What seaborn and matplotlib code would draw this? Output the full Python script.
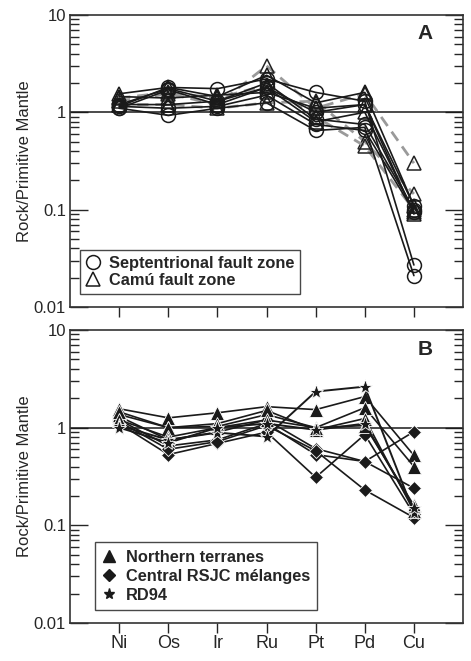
import numpy as np
import pandas as pd
import matplotlib
matplotlib.use("Agg")
import matplotlib.pyplot as plt
from matplotlib.lines import Line2D
from matplotlib.ticker import LogLocator, FixedLocator, NullFormatter
import seaborn as sns

elements = ['Ni', 'Os', 'Ir', 'Ru', 'Pt', 'Pd', 'Cu']

# Panel A - Septentrional fault zone (circles)
sept = [
    [1.15, 1.80, 1.75, 2.20, 1.60, 1.30, 0.027],
    [1.10, 0.93, 1.10, 1.25, 0.65, 0.70, 0.021],
    [1.20, 1.75, 1.30, 2.00, 0.85, 0.75, 0.100],
    [1.10, 1.70, 1.20, 1.80, 1.00, 1.20, 0.110],
    [1.15, 1.10, 1.15, 1.50, 0.75, 0.65, 0.095],
]
# Panel A - Camú fault zone (triangles), solid and dashed grey lines
camu_solid = [
    [1.55, 1.80, 1.45, 2.40, 1.25, 1.60, 0.110],
    [1.20, 1.20, 1.30, 1.80, 0.80, 1.00, 0.095],
    [1.45, 1.40, 1.50, 1.60, 1.10, 1.20, 0.090],
]
camu_dashed = [
    [1.30, 1.55, 1.20, 3.00, 1.10, 1.55, 0.300],
    [1.20, 1.20, 1.10, 1.25, 1.30, 0.50, 0.145],
    [1.40, 1.60, 1.40, 1.90, 0.90, 0.45, 0.100],
]

# Panel B
northern = [
    [1.56, 1.26, 1.42, 1.64, 1.53, 2.08, 0.52],
    [1.36, 1.00, 1.03, 1.36, 1.00, 1.60, 0.40],
    [1.45, 1.00, 1.10, 1.50, 0.95, 1.24, 0.14],
    [1.20, 0.80, 1.00, 1.20, 1.00, 1.05, 0.16],
]
central = [
    [1.10, 0.53, 0.69, 0.90, 0.31, 0.85, 0.13],
    [1.30, 0.75, 0.90, 1.20, 0.61, 0.45, 0.91],
    [1.20, 0.65, 0.75, 1.10, 0.53, 0.45, 0.24],
    [1.15, 0.60, 0.72, 1.05, 0.58, 0.23, 0.12],
]
rd94 = [
    [1.05, 0.75, 0.89, 0.81, 2.34, 2.63, 0.135],
    [1.00, 0.70, 1.00, 1.10, 0.95, 1.10, 0.150],
]

sns.set_style("ticks")
plt.rcParams['font.family'] = ['Liberation Sans', 'DejaVu Sans']

fig = plt.figure(figsize=(4.71, 6.61), dpi=100)
axA = fig.add_axes([0.149, 0.5356, 0.834, 0.4418])
axB = fig.add_axes([0.149, 0.0575, 0.834, 0.4433])

xs = np.arange(len(elements))


def draw(ax, rows, **kw):
    for r in rows:
        sns.lineplot(x=xs, y=r, ax=ax, sort=False, estimator=None, **kw)


# Panel A
draw(axA, camu_dashed, color='#9a9a9a', lw=2.0, dashes=(4, 2.5),
     marker='^', ms=10.5, mfc='none', mec='#222222', mew=1.1)
draw(axA, sept, color='#1a1a1a', lw=1.2,
     marker='o', ms=10, mfc='none', mec='#1a1a1a', mew=1.1)
draw(axA, camu_solid, color='#1a1a1a', lw=1.2,
     marker='^', ms=10.5, mfc='none', mec='#1a1a1a', mew=1.1)

# Panel B
draw(axB, central, color='#1a1a1a', lw=1.2,
     marker='D', ms=7, mfc='#1a1a1a', mec='white', mew=0.6)
draw(axB, northern, color='#1a1a1a', lw=1.2,
     marker='^', ms=9.5, mfc='#1a1a1a', mec='white', mew=0.6)
draw(axB, rd94, color='#1a1a1a', lw=1.4,
     marker='*', ms=11, mfc='#1a1a1a', mec='white', mew=0.6)

for ax, lab in [(axA, 'A'), (axB, 'B')]:
    ax.set_yscale('log')
    ax.set_ylim(0.01, 10)
    ax.set_xlim(-1, 7)
    ax.axhline(1, color='#1a1a1a', lw=1.1, zorder=1)
    ax.yaxis.set_major_locator(FixedLocator([0.01, 0.1, 1, 10]))
    ax.set_yticklabels(['0.01', '0.1', '1', '10'])
    ax.yaxis.set_minor_locator(LogLocator(base=10, subs=np.arange(2, 10)))
    ax.yaxis.set_minor_formatter(NullFormatter())
    ax.tick_params(axis='y', which='major', direction='in', length=13, width=1,
                   left=True, right=True, labelsize=12, pad=3)
    ax.tick_params(axis='y', which='minor', direction='in', length=6.5, width=1,
                   left=True, right=True)
    ax.set_xticks(xs)
    ax.tick_params(axis='x', which='major', direction='out', length=7, width=1,
                   labelsize=13, pad=2)
    ax.tick_params(axis='x', which='minor', bottom=False)
    for s in ax.spines.values():
        s.set_linewidth(1.2)
        s.set_color('#333333')
    ax.set_ylabel('Rock/Primitive Mantle', fontsize=12, labelpad=1)
    ax.set_xlabel('')
    ax.text(0.903, 0.935, lab, transform=ax.transAxes, fontsize=15,
            fontweight='bold', ha='center', va='center')

axA.set_xticklabels([])
axB.set_xticklabels(elements)

hA = [Line2D([], [], ls='none', marker='o', ms=10, mfc='none', mec='#1a1a1a', mew=1.1),
      Line2D([], [], ls='none', marker='^', ms=10.5, mfc='none', mec='#1a1a1a', mew=1.1)]
legA = axA.legend(hA, ['Septentrional fault zone', 'Camú fault zone'],
                  loc='lower left', bbox_to_anchor=(0.025, 0.045), borderaxespad=0,
                  frameon=True, fancybox=False, edgecolor='#1a1a1a',
                  prop={'weight': 'bold', 'size': 11.8}, handlelength=0.9,
                  handletextpad=0.5, labelspacing=0.15, borderpad=0.35)
legA.get_frame().set_linewidth(1.0)

hB = [Line2D([], [], ls='none', marker='^', ms=8.5, mfc='#1a1a1a', mec='#1a1a1a'),
      Line2D([], [], ls='none', marker='D', ms=6, mfc='#1a1a1a', mec='#1a1a1a'),
      Line2D([], [], ls='none', marker='*', ms=8, mfc='#1a1a1a', mec='#1a1a1a')]
legB = axB.legend(hB, ['Northern terranes', 'Central RSJC mélanges', 'RD94'],
                  loc='lower left', bbox_to_anchor=(0.064, 0.044), borderaxespad=0,
                  frameon=True, fancybox=False, edgecolor='#1a1a1a',
                  prop={'weight': 'bold', 'size': 11.8}, handlelength=0.8,
                  handletextpad=0.6, labelspacing=0.25, borderpad=0.45)
legB.get_frame().set_linewidth(1.0)

fig.savefig('out.png', dpi=100)
